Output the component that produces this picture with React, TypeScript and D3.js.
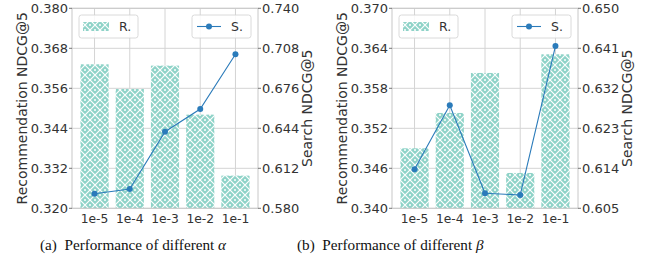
import React from "react";
import * as d3 from "d3";

const categories = ["1e-5", "1e-4", "1e-3", "1e-2", "1e-1"];

const recAlpha = [0.3632, 0.3558, 0.3628, 0.3481, 0.3298];
const searchAlpha = [0.5917, 0.5954, 0.6413, 0.6594, 0.7032];
const recAlphaTicks = [0.32, 0.332, 0.344, 0.356, 0.368, 0.38];
const searchAlphaTicks = [0.58, 0.612, 0.644, 0.676, 0.708, 0.74];

const recBeta = [0.349, 0.3543, 0.3603, 0.3453, 0.3631];
const searchBeta = [0.6138, 0.6282, 0.6084, 0.608, 0.6415];
const recBetaTicks = [0.34, 0.346, 0.352, 0.358, 0.364, 0.37];
const searchBetaTicks = [0.605, 0.614, 0.623, 0.632, 0.641, 0.65];

const BAR = "#8fd3c8";
const LINE = "#2b7bba";
const TEXT = "#333333";
const GRID = "#d4d4d4";
const FONT = "DejaVu Sans";

type PanelProps = {
  x0: number;
  rec: number[];
  search: number[];
  recTicks: number[];
  searchTicks: number[];
  caption: React.ReactNode;
  captionX: number;
};

function Panel({ x0, rec, search, recTicks, searchTicks, caption, captionX }: PanelProps) {
  const left = x0 + 72;
  const right = x0 + 258;
  const top = 8.3;
  const bottom = 208.3;
  const x = d3.scaleLinear().domain([-0.64, 4.64]).range([left, right]);
  const yL = d3.scaleLinear().domain([recTicks[0], recTicks[recTicks.length - 1]]).range([bottom, top]);
  const yR = d3.scaleLinear().domain([searchTicks[0], searchTicks[searchTicks.length - 1]]).range([bottom, top]);
  const bw = x(0.4) - x(-0.4);
  const line = d3
    .line<number>()
    .x((_, i) => x(i))
    .y((d) => yR(d));
  const fmt = d3.format(".3f");
  return (
    <g>
      {categories.map((c, i) => (
        <line key={"gv" + c} x1={x(i)} x2={x(i)} y1={top} y2={bottom} stroke={GRID} strokeWidth={1} />
      ))}
      {recTicks.map((t) => (
        <line key={"gh" + t} x1={left} x2={right} y1={yL(t)} y2={yL(t)} stroke={GRID} strokeWidth={1} />
      ))}
      {rec.map((v, i) => (
        <rect key={"b" + i} x={x(i) - bw / 2} y={yL(v)} width={bw} height={bottom - yL(v)} fill="url(#hatch)" />
      ))}
      <rect x={left} y={top} width={right - left} height={bottom - top} fill="none" stroke="#c8c8c8" strokeWidth={1} />
      <path d={line(search) || ""} fill="none" stroke={LINE} strokeWidth={1.1} />
      {search.map((v, i) => (
        <circle key={"p" + i} cx={x(i)} cy={yR(v)} r={3} fill={LINE} />
      ))}
      {recTicks.map((t) => (
        <g key={"lt" + t}>
          <line x1={left - 3} x2={left} y1={yL(t)} y2={yL(t)} stroke="#555" strokeWidth={0.8} />
          <text x={left - 4} y={yL(t)} dy="0.35em" textAnchor="end" fontSize={13} fill={TEXT} fontFamily={FONT}>
            {fmt(t)}
          </text>
        </g>
      ))}
      {searchTicks.map((t) => (
        <g key={"rt" + t}>
          <line x1={right} x2={right + 3} y1={yR(t)} y2={yR(t)} stroke="#555" strokeWidth={0.8} />
          <text x={right + 4} y={yR(t)} dy="0.35em" textAnchor="start" fontSize={13} fill={TEXT} fontFamily={FONT}>
            {fmt(t)}
          </text>
        </g>
      ))}
      {categories.map((c, i) => (
        <text key={"xt" + c} x={x(i)} y={bottom + 15} textAnchor="middle" fontSize={12.3} fill={TEXT} fontFamily={FONT}>
          {c}
        </text>
      ))}
      <text
        transform={`translate(${x0 + 22},${(top + bottom) / 2}) rotate(-90)`}
        textAnchor="middle"
        dy="0.35em"
        fontSize={14}
        fill={TEXT}
        fontFamily={FONT}
      >
        Recommendation NDCG@5
      </text>
      <text
        transform={`translate(${x0 + 307},${(top + bottom) / 2}) rotate(-90)`}
        textAnchor="middle"
        dy="0.35em"
        fontSize={14}
        fill={TEXT}
        fontFamily={FONT}
      >
        Search NDCG@5
      </text>
      <rect x={left + 7} y={15} width={59} height={23} rx={2.5} fill="white" fillOpacity={0.85} stroke="#d0d0d0" strokeWidth={0.8} />
      <rect x={left + 11} y={22} width={26} height={9} fill="url(#hatch)" />
      <text x={left + 47} y={26.5} dy="0.35em" fontSize={12.5} fill={TEXT} fontFamily={FONT}>
        R.
      </text>
      <rect x={right - 66} y={15} width={59} height={23} rx={2.5} fill="white" fillOpacity={0.85} stroke="#d0d0d0" strokeWidth={0.8} />
      <line x1={right - 61} x2={right - 37} y1={26.5} y2={26.5} stroke={LINE} strokeWidth={1.1} />
      <circle cx={right - 49} cy={26.5} r={3} fill={LINE} />
      <text x={right - 27} y={26.5} dy="0.35em" fontSize={12.5} fill={TEXT} fontFamily={FONT}>
        S.
      </text>
      <text x={captionX} y={250} fontSize={15.2} fill="#111" fontFamily="Liberation Serif">
        {caption}
      </text>
    </g>
  );
}

export default function App() {
  return (
    <svg
      width={652}
      height={269}
      style={{ position: "absolute", left: 0, top: 0, background: "white" }}
      xmlns="http://www.w3.org/2000/svg"
    >
      <defs>
        <pattern id="hatch" patternUnits="userSpaceOnUse" width={10} height={10}>
          <rect width={10} height={10} fill={BAR} />
          <path d="M0,0L10,10M10,0L0,10" stroke="white" strokeWidth={1.2} fill="none" />
          <circle cx={0} cy={5} r={1} fill="white" />
          <circle cx={10} cy={5} r={1} fill="white" />
          <circle cx={5} cy={0} r={1} fill="white" />
          <circle cx={5} cy={10} r={1} fill="white" />
        </pattern>
      </defs>
      <rect width={652} height={269} fill="white" />
      <Panel
        x0={0}
        rec={recAlpha}
        search={searchAlpha}
        recTicks={recAlphaTicks}
        searchTicks={searchAlphaTicks}
        captionX={40}
        caption={
          <>
            (a)&#160;&#160;Performance of different <tspan fontStyle="italic">α</tspan>
          </>
        }
      />
      <Panel
        x0={320}
        rec={recBeta}
        search={searchBeta}
        recTicks={recBetaTicks}
        searchTicks={searchBetaTicks}
        captionX={297}
        caption={
          <>
            (b)&#160;&#160;Performance of different <tspan fontStyle="italic">β</tspan>
          </>
        }
      />
    </svg>
  );
}
